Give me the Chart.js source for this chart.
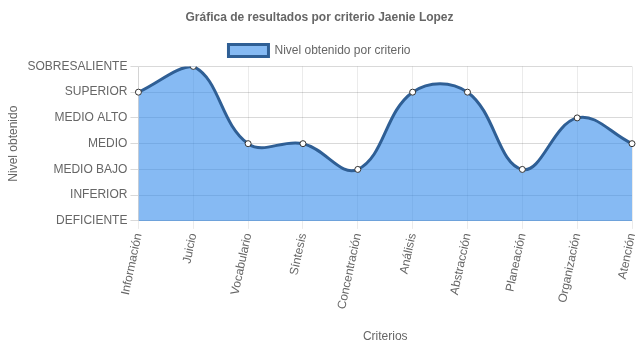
<!DOCTYPE html>
<html><head><meta charset="utf-8">
<script src="https://cdn.jsdelivr.net/npm/chart.js@4/dist/chart.umd.min.js"></script>
<style>html,body{margin:0;padding:0;background:#fff}#wrap{width:637px;height:348px}</style>
</head><body><div id="wrap"><canvas id="c"></canvas></div>
<script>
const categories = ["Información","Juicio","Vocabulario","Síntesis","Concentración","Análisis","Abstracción","Planeación","Organización","Atención"];
const levelLabels = ["DEFICIENTE","INFERIOR","MEDIO BAJO","MEDIO","MEDIO ALTO","SUPERIOR","SOBRESALIENTE"];
const values = [5,6,3,3,2,5,5,2,4,3];

Chart.defaults.font.family = "'Liberation Sans', Arial, sans-serif";
Chart.defaults.font.size = 12;
Chart.defaults.color = '#666';

new Chart(document.getElementById('c'), {
  type: 'line',
  data: {
    labels: categories,
    datasets: [{
      label: 'Nivel obtenido por criterio',
      data: values,
      fill: 'origin',
      backgroundColor: 'rgba(54,140,235,0.6)',
      borderColor: '#2f5f95',
      borderWidth: 3,
      tension: 0.4,
      pointRadius: 3,
      pointBackgroundColor: '#fff',
      pointBorderColor: '#333',
      pointBorderWidth: 1
    }]
  },
  options: {
    responsive: true,
    maintainAspectRatio: false,
    animation: false,
    layout: { padding: { right: 0, left: 2 } },
    plugins: {
      title: { display: true, text: 'Gráfica de resultados por criterio Jaenie Lopez', font: { size: 12, weight: 'bold' }, color: '#666', padding: { top: 10, bottom: 10 } },
      legend: { labels: { boxWidth: 40, font: { size: 12 } } },
      tooltip: { enabled: false }
    },
    scales: {
      x: {
        title: { display: true, text: 'Criterios', padding: { top: 16, bottom: 4 } },
        ticks: { minRotation: 78, maxRotation: 78 },
        grid: { color: 'rgba(0,0,0,0.08)' },
        afterFit: s => { s.paddingRight = 4; }
      },
      y: {
        min: 0, max: 6,
        title: { display: true, text: 'Nivel obtenido' },
        ticks: { stepSize: 1, callback: v => levelLabels[v] },
        grid: { color: 'rgba(0,0,0,0.15)' }
      }
    }
  }
});
</script></body></html>
